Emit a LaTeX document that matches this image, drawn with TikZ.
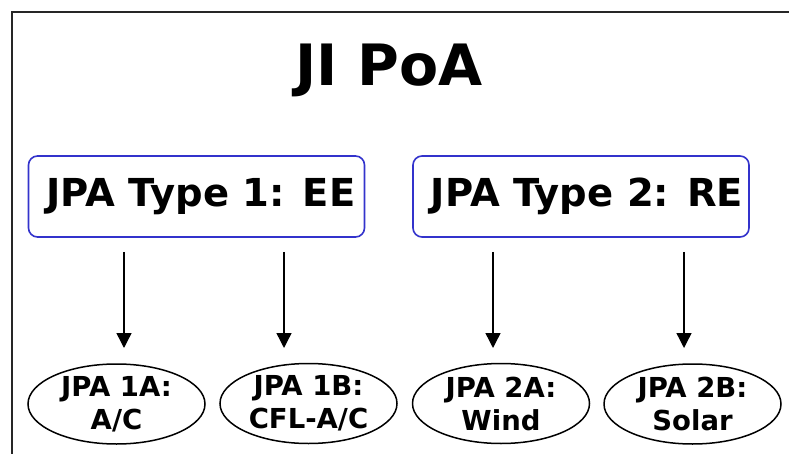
\documentclass[tikz,border=0pt]{standalone}
\usepackage{fontspec}
\setmainfont{DejaVu Sans}
\usetikzlibrary{shapes.geometric,arrows.meta}
\definecolor{boxblue}{RGB}{51,51,204}
\tikzset{
  typebox/.style={draw=boxblue, line width=1.6pt, rounded corners=9pt, minimum width=336pt, minimum height=81pt, inner sep=0pt, font=\fontsize{38.5}{44}\selectfont\bfseries},
  subell/.style={draw, ellipse, line width=1.5pt, minimum width=177pt, minimum height=80pt, inner sep=0pt, align=center, font=\fontsize{27.5}{33}\selectfont\bfseries},
  conn/.style={line width=1.4pt, -{Triangle[width=15pt,length=15pt]}},
  frame/.style={line width=2.6pt, draw=black!85}
}
\begin{document}
\begin{tikzpicture}[x=1pt,y=-1pt]
\useasboundingbox (0,0) rectangle (789,454);
\fill[white] (0,0) rectangle (789,454);
\coordinate (fr1) at (790,12);
\coordinate (fr2) at (12,12);
\coordinate (fr3) at (12,455);
\draw[frame] (fr1) -- (fr2) -- (fr3);
\node[font=\fontsize{57}{62}\selectfont\bfseries, inner sep=0pt] (title) at (389,70) {JI PoA};
\node[typebox] (t1) at (196.5,196.5) {\hspace*{9pt}JPA Type 1: EE};
\node[typebox] (t2) at (581,196.5) {\hspace*{12pt}JPA Type 2: RE};
\node[subell] (e1) at (116.5,404) {JPA 1A:\\A/C};
\node[subell] (e2) at (308.5,403.5) {JPA 1B:\\CFL-A/C};
\node[subell] (e3) at (501,403.5) {JPA 2A:\\Wind};
\node[subell] (e4) at (692.5,404) {JPA 2B:\\Solar};
\coordinate (a1s) at (124,252); \coordinate (a1e) at (124,348);
\coordinate (a2s) at (284,252); \coordinate (a2e) at (284,348);
\coordinate (a3s) at (493,252); \coordinate (a3e) at (493,348);
\coordinate (a4s) at (684,252); \coordinate (a4e) at (684,348);
\draw[conn] (a1s) -- (a1e);
\draw[conn] (a2s) -- (a2e);
\draw[conn] (a3s) -- (a3e);
\draw[conn] (a4s) -- (a4e);
\end{tikzpicture}
\end{document}
